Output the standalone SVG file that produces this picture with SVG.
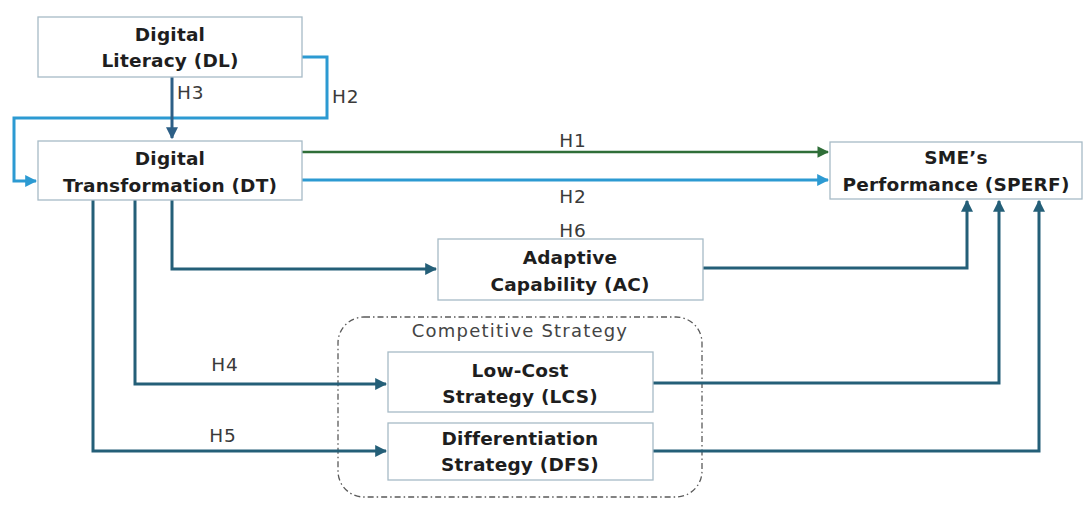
<svg xmlns="http://www.w3.org/2000/svg" width="1084" height="505" viewBox="0 0 1084 505">
<defs>
<style>
.box{fill:#ffffff;stroke:#a7bbc6;stroke-width:1.3}
.nt{font-family:"DejaVu Sans","Open Sans",sans-serif;font-weight:700;font-size:18.5px;fill:#1e1e1e;text-anchor:middle;letter-spacing:0.2px}
.hl{font-family:"DejaVu Sans","Liberation Sans",sans-serif;font-size:18.5px;fill:#3a3a3a;letter-spacing:0.8px}
.teal{fill:none;stroke:#245f78;stroke-width:3}
.blue{fill:none;stroke:#2c9ad2;stroke-width:3}
.green{fill:none;stroke:#2f6e38;stroke-width:2.6}
.dk{fill:none;stroke:#2d5f86;stroke-width:3}
</style>
<marker id="aTeal" viewBox="0 0 10 10" refX="9" refY="5" markerWidth="4" markerHeight="4" orient="auto" markerUnits="strokeWidth"><path d="M0,0 L10,5 L0,10 z" fill="#245f78"/></marker>
<marker id="aBlue" viewBox="0 0 10 10" refX="9" refY="5" markerWidth="4" markerHeight="4" orient="auto" markerUnits="strokeWidth"><path d="M0,0 L10,5 L0,10 z" fill="#2c9ad2"/></marker>
<marker id="aGreen" viewBox="0 0 10 10" refX="9" refY="5" markerWidth="4.5" markerHeight="4.5" orient="auto" markerUnits="strokeWidth"><path d="M0,0 L10,5 L0,10 z" fill="#2f6e38"/></marker>
<marker id="aDk" viewBox="0 0 10 10" refX="9" refY="5" markerWidth="4" markerHeight="4" orient="auto" markerUnits="strokeWidth"><path d="M0,0 L10,5 L0,10 z" fill="#2d5f86"/></marker>
</defs>
<rect width="1084" height="505" fill="#ffffff"/>

<g id="group-competitive">
<rect x="338" y="317" width="364" height="180" rx="26" ry="26" fill="none" stroke="#5a5a5a" stroke-width="1.3" stroke-dasharray="6,3,1.5,3"/>
<text x="520" y="337" font-family="'DejaVu Sans','Open Sans',sans-serif" font-size="18px" fill="#444" text-anchor="middle" letter-spacing="1.2">Competitive Strategy</text>
</g>

<g id="connectors">
<path class="blue" d="M302,57 H327 V118 H14 V181 H36" marker-end="url(#aBlue)"/>
<path class="dk" d="M172,77 V138" marker-end="url(#aDk)"/>
<path class="green" d="M302,152 H828" marker-end="url(#aGreen)"/>
<path class="blue" d="M302,180 H828" marker-end="url(#aBlue)"/>
<path class="teal" d="M172,200 V269 H436" marker-end="url(#aTeal)"/>
<path class="teal" d="M135,200 V384 H386" marker-end="url(#aTeal)"/>
<path class="teal" d="M93,200 V451 H386" marker-end="url(#aTeal)"/>
<path class="teal" d="M703,268 H967 V201" marker-end="url(#aTeal)"/>
<path class="teal" d="M653,383 H999 V201" marker-end="url(#aTeal)"/>
<path class="teal" d="M653,451 H1039 V201" marker-end="url(#aTeal)"/>
<text class="hl" x="177" y="99">H3</text>
<text class="hl" x="332" y="103">H2</text>
<text class="hl" x="573" y="147" text-anchor="middle" fill="#3f8a4c">H1</text>
<text class="hl" x="573" y="203" text-anchor="middle" fill="#4a8a62">H2</text>
<text class="hl" x="573" y="237" text-anchor="middle">H6</text>
<text class="hl" x="225" y="371" text-anchor="middle">H4</text>
<text class="hl" x="223" y="442" text-anchor="middle">H5</text>
</g>

<g id="node-DL">
<rect class="box" x="38" y="17" width="264" height="60"/>
<text class="nt" x="170" y="41">Digital</text>
<text class="nt" x="170" y="67">Literacy (DL)</text>
</g>

<g id="node-DT">
<rect class="box" x="38" y="141" width="264" height="59"/>
<text class="nt" x="170" y="165">Digital</text>
<text class="nt" x="170" y="192">Transformation (DT)</text>
</g>

<g id="node-SPERF">
<rect class="box" x="830" y="142" width="252" height="57"/>
<text class="nt" x="956" y="164">SME’s</text>
<text class="nt" x="956" y="191">Performance (SPERF)</text>
</g>

<g id="node-AC">
<rect class="box" x="438" y="239" width="265" height="61"/>
<text class="nt" x="570" y="264">Adaptive</text>
<text class="nt" x="570" y="291">Capability (AC)</text>
</g>

<g id="node-LCS">
<rect class="box" x="388" y="352" width="265" height="60"/>
<text class="nt" x="520" y="377">Low-Cost</text>
<text class="nt" x="520" y="403">Strategy (LCS)</text>
</g>

<g id="node-DFS">
<rect class="box" x="388" y="423" width="265" height="57"/>
<text class="nt" x="520" y="445">Differentiation</text>
<text class="nt" x="520" y="471">Strategy (DFS)</text>
</g>
</svg>
